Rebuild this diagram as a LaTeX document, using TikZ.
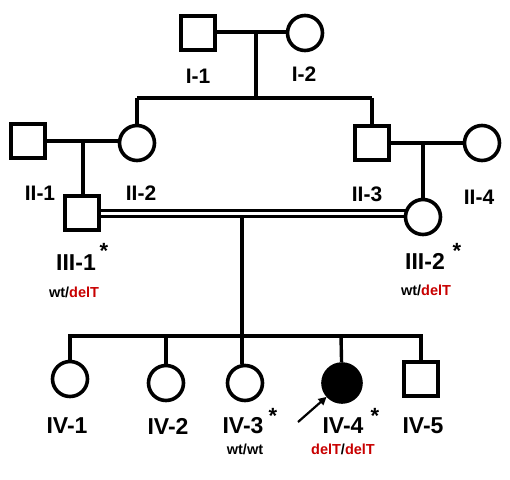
\documentclass[tikz,border=0pt]{standalone}
\usepackage{fontspec}
\setmainfont{Liberation Sans}
\usetikzlibrary{arrows.meta}
\definecolor{mutred}{RGB}{200,0,0}
\tikzset{
  x=1pt, y=-1pt,
  ln/.style={line width=3.4pt},
  male/.style={draw, line width=3.8pt, minimum size=34pt, inner sep=0pt},
  female/.style={draw, circle, line width=3.6pt, minimum size=35pt, inner sep=0pt},
  aff/.style={female, fill=black, minimum size=38pt},
  lab/.style={font=\fontsize{21}{22}\selectfont\bfseries, inner sep=0pt},
  labb/.style={font=\fontsize{23}{24}\selectfont\bfseries, inner sep=0pt},
  geno/.style={font=\fontsize{14.5}{16}\selectfont\bfseries, inner sep=0pt},
  star/.style={font=\fontsize{22}{22}\selectfont\bfseries, inner sep=0pt},
}
\begin{document}
\begin{tikzpicture}
\useasboundingbox (0,0) rectangle (510,479);
% generation I
\node[male] (i1) at (198,33) {};
\node[female] (i2) at (305,33) {};
\coordinate (m1) at (256,32);
\coordinate (s1) at (256,98);
\coordinate (s1l) at (137,98);
\coordinate (s1r) at (372,98);
\draw[ln] (i1.east |- 0,32) -- (i2.west |- 0,32);
\draw[ln] (m1) -- (s1);
\draw[ln] (s1l) -- (s1r);
\node[lab] at (198,76) {I-1};
\node[lab] at (304,74) {I-2};
% generation II
\node[male] (ii1) at (28,141) {};
\node[female] (ii2) at (137,143) {};
\node[male] (ii3) at (372,143) {};
\node[female] (ii4) at (482,143) {};
\draw[ln] (s1l) -- (ii2);
\draw[ln] (s1r) -- (ii3);
\draw[ln] (ii1.east |- 0,141) -- (ii2.west |- 0,141);
\draw[ln] (ii3.east |- 0,143) -- (ii4.west |- 0,143);
\node[lab] at (40,193) {II-1};
\node[lab] at (141,193) {II-2};
\node[lab] at (367,194) {II-3};
\node[lab] at (479,197) {II-4};
% generation III
\node[male] (iii1) at (82,213) {};
\node[female] (iii2) at (423,217) {};
\coordinate (m21) at (83,141);
\coordinate (m22) at (423,143);
\draw[ln] (m21) -- (m21 |- iii1.north);
\draw[ln] (m22) -- (iii2.north);
\draw[line width=3pt] (iii1.east |- 0,210) -- (406,210);
\draw[line width=3pt] (iii1.east |- 0,216.5) -- (406,216.5);
\node[labb] at (76,263) {III-1};
\node[star] at (104,251) {*};
\node[geno] at (74,292) {wt/\textcolor{mutred}{delT}};
\node[labb] at (425,261) {III-2};
\node[star] at (457,251) {*};
\node[geno] at (426,290) {wt/\textcolor{mutred}{delT}};
% generation IV
\coordinate (d3) at (242,216);
\coordinate (s3) at (242,336);
\coordinate (s3l) at (70,336);
\coordinate (s3r) at (421,336);
\draw[ln] (d3) -- (s3);
\draw[ln] (s3l |- 0,336) ++(-1.7,0) -- ([xshift=1.7pt]s3r);
\node[female] (iv1) at (70,379) {};
\node[female] (iv2) at (166,383) {};
\node[female] (iv3) at (245,383) {};
\node[aff] (iv4) at (342,383) {};
\node[male] (iv5) at (421,379) {};
\draw[ln] (s3l) -- (iv1);
\draw[ln] (166,336) -- (iv2);
\draw[ln] (s3) -- (iv3.north -| s3);
\draw[ln] (341,336) -- (iv4);
\draw[ln] (s3r) -- (iv5);
\node[labb] at (67,426) {IV-1};
\node[labb] at (168,426) {IV-2};
\node[labb] at (243,426) {IV-3};
\node[star] at (273,416) {*};
\node[geno] at (245,449) {wt/wt};
\node[labb] at (343,426) {IV-4};
\node[star] at (375,416) {*};
\node[geno] at (343,449) {\textcolor{mutred}{delT}/\textcolor{mutred}{delT}};
\node[labb] at (423,426) {IV-5};
\coordinate (arrtail) at (298,422);
\draw[line width=2.2pt, -{Triangle[length=8pt,width=8pt]}] (arrtail) -- (iv4.222);
\end{tikzpicture}
\end{document}
